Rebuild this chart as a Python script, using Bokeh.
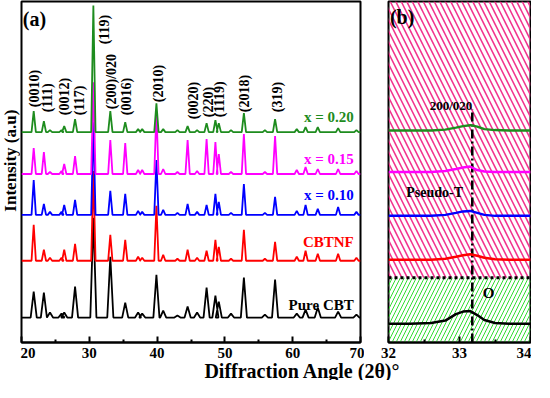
import numpy as np
from bokeh.plotting import figure
from bokeh.layouts import row, column
from bokeh.models import FixedTicker
from bokeh.core.properties import value
from bokeh.embed import file_html
from bokeh.resources import INLINE

FONT = "Liberation Serif"

# ---------------- data: panel (a) ----------------
peaks = [21.8, 23.3, 24.2, 25.9, 26.3, 27.9, 30.6, 33.1, 35.3, 37.2, 37.8, 39.9, 40.9, 43.0,
         44.5, 45.9, 47.3, 48.6, 49.1, 50.9, 52.8, 55.9, 57.4, 60.6, 61.9, 63.7, 66.7, 69.4]
h_x020 = [21, 11, 2, 2, 6, 13, 127, 21, 10, 3, 3, 29, 3, 2, 6, 2, 9, 12, 9, 2, 19, 2, 13, 3, 5, 5, 4, 2]
h_x015 = [26, 22, 2, 3, 10, 18, 92, 34, 31, 4, 4, 62, 5, 2, 34, 3, 35, 32, 20, 2, 40, 2, 38, 4, 7, 5, 5, 3]
h_x010 = [35, 11, 3, 3, 10, 15, 93, 24, 21, 4, 3, 55, 5, 2, 11, 3, 10, 21, 13, 2, 31, 2, 18, 4, 10, 6, 8, 3]
h_cbtnf = [36, 11, 3, 3, 11, 17, 90, 26, 21, 4, 3, 55, 6, 2, 11, 3, 10, 21, 14, 2, 31, 2, 19, 4, 10, 7, 7, 3]
h_pure = [26, 25, 5, 4, 5, 31, 100, 61, 15, 5, 4, 43, 7, 2, 11, 5, 30, 22, 16, 4, 40, 3, 38, 4, 8, 10, 6, 3]
baselines = [211, 169, 128, 82, 25]
series_names = ["x = 0.20", "x = 0.15", "x = 0.10", "CBTNF", "Pure CBT"]
series_label_y = [226, 184, 148, 101, 38]

hkl_labels = ["(0010)", "(111)", "(0012)", "(117)", "(119)", "(200)/020", "(0016)", "(2010)",
              "(0020)", "(220)", "(1119)", "(2018)", "(319)"]
hkl_x = [21.9, 23.8, 26.4, 28.6, 32.3, 33.3, 35.5, 40.2, 45.3, 47.6, 49.2, 52.9, 57.7]
hkl_y = [236, 231, 228, 228, 299, 234, 228, 241, 224, 226, 226, 231, 231]

# ---------------- data: panel (b) ----------------
b_x = [32.0, 32.3, 32.6, 32.8, 32.95, 33.05, 33.15, 33.25, 33.35, 33.5, 33.7, 34.0]
b_x020 = [212.5, 212.5, 212.5, 213.5, 215.5, 217, 218, 216.5, 214, 213, 212.5, 212.5]
b_x015 = [171, 171, 171, 172, 174, 175.5, 176.5, 173, 171.5, 171, 171, 171]
b_x010 = [127, 127, 127, 128, 130, 131.5, 132, 130, 128, 127, 127, 127]
b_cbtnf = [83, 83, 83, 84, 86, 87.5, 88.5, 87, 85, 83.5, 83, 83]
b_pure = [18.7, 18.7, 19.5, 22, 28.5, 31, 31.5, 27.5, 22.5, 19.5, 18.7, 18.7]
phase_boundary = 65
peak_line_x = 33.18

colors = ["#1e8c1e", "#ff00ff", "#0000ff", "#ff0000", "#000000"]
half_w = [0.32, 0.32, 0.32, 0.32, 0.45]

ROW_H = 360


def build_curve(base, heights, hw):
    xs, ys = [20.0], [base]
    for pk, h in zip(peaks, heights):
        xs += [pk - hw, pk, pk + hw]
        ys += [base, base + h, base]
    xs.append(70.0)
    ys.append(base)
    return xs, ys


def style_axes(p):
    p.outline_line_color = "black"
    p.outline_line_width = 2
    p.background_fill_color = "white"
    p.border_fill_color = "white"
    p.grid.visible = False
    p.yaxis.visible = False
    for ax in p.xaxis:
        ax.axis_line_width = 2
        ax.major_tick_in = 6
        ax.major_tick_out = 0
        ax.minor_tick_in = 3
        ax.minor_tick_out = 0
        ax.major_tick_line_width = 2
        ax.minor_tick_line_width = 2
        ax.major_label_text_font = FONT
        ax.major_label_text_font_style = "bold"
        ax.major_label_text_font_size = "15px"
        ax.major_label_text_color = "black"
        ax.major_label_standoff = 5


# ---------------- y-axis title strip ----------------
py = figure(width=20, height=ROW_H, x_range=(0, 20), y_range=(0, ROW_H),
            output_backend="svg", toolbar_location=None, min_border=0)
py.axis.visible = False
py.grid.visible = False
py.outline_line_color = None
py.text(x=[10], y=[192], text=["Intensity (a.u)"], angle=np.pi / 2,
        text_align="center", text_baseline="middle", text_font=value(FONT),
        text_font_style="bold", text_font_size="17px", text_color="black")

# ---------------- panel (a) ----------------
pa = figure(width=344, height=ROW_H, x_range=(20, 70), y_range=(0, 342),
            output_backend="svg", toolbar_location=None,
            min_border_left=1, min_border_right=4, min_border_top=1, min_border_bottom=0)
style_axes(pa)
pa.xaxis.ticker = FixedTicker(ticks=[20, 30, 40, 50, 60, 70], minor_ticks=[25, 35, 45, 55, 65])

all_h = [h_x020, h_x015, h_x010, h_cbtnf, h_pure]
for i in range(4, -1, -1):
    xs, ys = build_curve(baselines[i], all_h[i], half_w[i])
    pa.line(xs, ys, line_color=colors[i], line_width=1.8)

for name, yy, c in zip(series_names, series_label_y, colors):
    pa.text(x=[69.0], y=[yy], text=[name], text_align="right", text_baseline="middle",
            text_font=value(FONT), text_font_style="bold", text_font_size="15px", text_color=c)

pa.text(x=hkl_x, y=hkl_y, text=hkl_labels, angle=np.pi / 2, text_align="left",
        text_baseline="middle", text_font=value(FONT), text_font_style="bold",
        text_font_size="14px", text_color="black")

pa.text(x=[20.2], y=[324], text=["(a)"], text_align="left", text_baseline="middle",
        text_font=value(FONT), text_font_style="bold", text_font_size="20px", text_color="black")

# ---------------- panel (b) ----------------
pb = figure(width=167, height=ROW_H, x_range=(32, 34), y_range=(0, 342),
            output_backend="svg", toolbar_location=None,
            min_border_left=24, min_border_right=1, min_border_top=1, min_border_bottom=0)
style_axes(pb)
pb.xaxis.ticker = FixedTicker(ticks=[32, 33, 34], minor_ticks=[32.5, 33.5])

pb.quad(left=[32], right=[34], bottom=[phase_boundary], top=[342], fill_alpha=0,
        line_color=None, hatch_pattern="\\", hatch_color="#f2358f", hatch_scale=11,
        hatch_weight=1.6)
pb.quad(left=[32], right=[34], bottom=[0], top=[phase_boundary], fill_alpha=0,
        line_color=None, hatch_pattern="/", hatch_color="#33dd33", hatch_scale=8,
        hatch_weight=1.0)
pb.line([32, 34], [phase_boundary, phase_boundary], line_color="black", line_width=3,
        line_dash="3 3")
pb.line([peak_line_x, peak_line_x], [0, 234], line_color="black", line_width=2.5,
        line_dash="9 3 2 3")

for ys, c in zip([b_x020, b_x015, b_x010, b_cbtnf, b_pure], colors):
    pb.line(b_x, ys, line_color=c, line_width=2.5)

pb.text(x=[33.18], y=[238], text=["200/020"], text_align="right", text_baseline="middle",
        text_font=value(FONT), text_font_style="bold", text_font_size="13px", text_color="black")
pb.text(x=[32.65], y=[150], text=["Pseudo-T"], text_align="center", text_baseline="middle",
        text_font=value(FONT), text_font_style="bold", text_font_size="14px", text_color="black")
pb.text(x=[33.41], y=[50], text=["O"], text_align="center", text_baseline="middle",
        text_font=value(FONT), text_font_style="bold", text_font_size="15px", text_color="black")
pb.text(x=[32.02], y=[326], text=["(b)"], text_align="left", text_baseline="middle",
        text_font=value(FONT), text_font_style="bold", text_font_size="20px", text_color="black")

# ---------------- shared x-axis title ----------------
pl = figure(width=531, height=20, x_range=(0, 531), y_range=(0, 20),
            output_backend="svg", toolbar_location=None, min_border=0)
pl.axis.visible = False
pl.grid.visible = False
pl.outline_line_color = None
pl.text(x=[302], y=[10], text=["Diffraction Angle (2θ)°"], text_align="center",
        text_baseline="middle", text_font=value(FONT), text_font_style="bold",
        text_font_size="20px", text_color="black")

layout = column(row(py, pa, pb), pl)
open("out.html", "w").write(file_html(layout, INLINE))
